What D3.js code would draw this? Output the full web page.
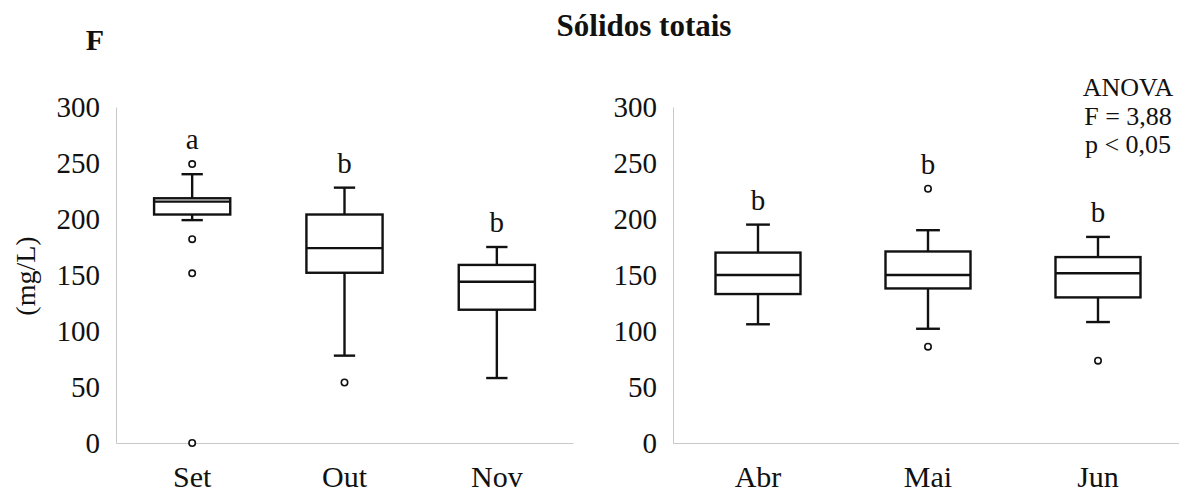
<!DOCTYPE html>
<html>
<head>
<meta charset="utf-8">
<script src="https://cdn.jsdelivr.net/npm/d3@7"></script>
<style>
  body { margin: 0; background: #fff; }
  svg { display: block; }
  text { font-family: "Liberation Serif", "Times New Roman", serif; fill: #111; }
</style>
</head>
<body>
<script>
// Monthly total solids (mg/L): box-plot summaries per month
const months      = ["Set", "Out", "Nov", "Abr", "Mai", "Jun"];
const whiskerLow  = [199, 78, 58, 106, 102, 108];
const q1          = [204, 152, 119, 133, 138, 130];
const median      = [215.5, 174, 144, 150, 150, 151.5];
const q3          = [218.5, 204, 159, 170, 171, 166];
const whiskerHigh = [240, 228, 175, 195, 190, 184];
const outliers    = [[249, 182, 151.5, 0], [54], [], [], [227, 86], [73.5]];
const letters     = ["a", "b", "b", "b", "b", "b"];
const yTicks      = [0, 50, 100, 150, 200, 250, 300];
const panelMonths = [["Set", "Out", "Nov"], ["Abr", "Mai", "Jun"]];
const anovaLines  = ["ANOVA", "F = 3,88", "p < 0,05"];

const W = 1179, H = 492;
const svg = d3.select("body").append("svg").attr("width", W).attr("height", H);

const y = d3.scaleLinear().domain([0, 300]).range([443, 107]);

const rows = months.map((m, i) => ({
  month: m, lo: whiskerLow[i], q1: q1[i], med: median[i], q3: q3[i],
  hi: whiskerHigh[i], out: outliers[i], letter: letters[i]
}));

const panels = [
  { months: panelMonths[0], x0: 116, x1: 573 },
  { months: panelMonths[1], x0: 673, x1: 1183 }
];

const gridColor = "#c9c9c9";

panels.forEach(p => {
  const x = d3.scaleBand().domain(p.months).range([p.x0, p.x1]).paddingInner(0).paddingOuter(0);
  const g = svg.append("g");

  // value axis
  const ya = g.append("g").attr("transform", `translate(${p.x0},0)`)
    .call(d3.axisLeft(y).tickValues(yTicks).tickSize(0).tickSizeOuter(0).tickPadding(16));
  ya.select(".domain").attr("stroke", gridColor).attr("stroke-width", 1);
  ya.selectAll("text").style("font-size", "29px").attr("fill", "#111")
    .style("font-family", '"Liberation Serif", serif');

  // category axis
  const xa = g.append("g").attr("transform", `translate(0,${y(0)})`)
    .call(d3.axisBottom(x).tickSize(0).tickSizeOuter(0).tickPadding(23));
  xa.select(".domain").attr("stroke", gridColor).attr("stroke-width", 1);
  xa.selectAll("text").style("font-size", "30px").attr("fill", "#111")
    .style("font-family", '"Liberation Serif", serif');

  const bw = x.bandwidth() * 0.5;
  const cap = bw * 0.28;
  const data = rows.filter(r => p.months.includes(r.month));

  const box = g.selectAll(".box").data(data).enter().append("g")
    .attr("transform", d => `translate(${x(d.month) + x.bandwidth() / 2},0)`);

  // whiskers
  box.append("line").attr("x1", 0).attr("x2", 0)
    .attr("y1", d => y(d.q3)).attr("y2", d => y(d.hi))
    .attr("stroke", "#111").attr("stroke-width", 2.4);
  box.append("line").attr("x1", 0).attr("x2", 0)
    .attr("y1", d => y(d.q1)).attr("y2", d => y(d.lo))
    .attr("stroke", "#111").attr("stroke-width", 2.4);
  box.append("line").attr("x1", -cap / 2).attr("x2", cap / 2)
    .attr("y1", d => y(d.hi)).attr("y2", d => y(d.hi))
    .attr("stroke", "#111").attr("stroke-width", 2.4);
  box.append("line").attr("x1", -cap / 2).attr("x2", cap / 2)
    .attr("y1", d => y(d.lo)).attr("y2", d => y(d.lo))
    .attr("stroke", "#111").attr("stroke-width", 2.4);

  // box and median
  box.append("rect").attr("x", -bw / 2).attr("width", bw)
    .attr("y", d => y(d.q3)).attr("height", d => y(d.q1) - y(d.q3))
    .attr("fill", "#fff").attr("stroke", "#111").attr("stroke-width", 2.4);
  box.append("line").attr("x1", -bw / 2).attr("x2", bw / 2)
    .attr("y1", d => y(d.med)).attr("y2", d => y(d.med))
    .attr("stroke", "#111").attr("stroke-width", 2.4);

  // outliers
  box.selectAll("circle").data(d => d.out).enter().append("circle")
    .attr("cx", 0).attr("cy", v => y(v)).attr("r", 3.2)
    .attr("fill", "#fff").attr("stroke", "#111").attr("stroke-width", 1.6);

  // significance letters above the highest mark
  box.append("text")
    .attr("x", 0)
    .attr("y", d => y(d3.max([d.hi, ...d.out])) - 15)
    .attr("text-anchor", "middle")
    .style("font-size", "29px")
    .text(d => d.letter);
});

// unit label
svg.append("text")
  .attr("transform", "translate(25,276) rotate(-90)")
  .attr("text-anchor", "middle").attr("dy", "0.35em")
  .style("font-size", "28px")
  .text("(mg/L)");

// title and panel tag
svg.append("text").attr("x", 644).attr("y", 36).attr("text-anchor", "middle")
  .style("font-size", "31px").style("font-weight", "bold")
  .text("Sólidos totais");
svg.append("text").attr("x", 95).attr("y", 50).attr("text-anchor", "middle")
  .style("font-size", "30px").style("font-weight", "bold")
  .text("F");

// test summary
svg.append("g").selectAll("text").data(anovaLines).enter().append("text")
  .attr("x", 1128).attr("y", (d, i) => 96 + i * 28.5)
  .attr("text-anchor", "middle")
  .style("font-size", "26px")
  .text(d => d);
</script>
</body>
</html>
